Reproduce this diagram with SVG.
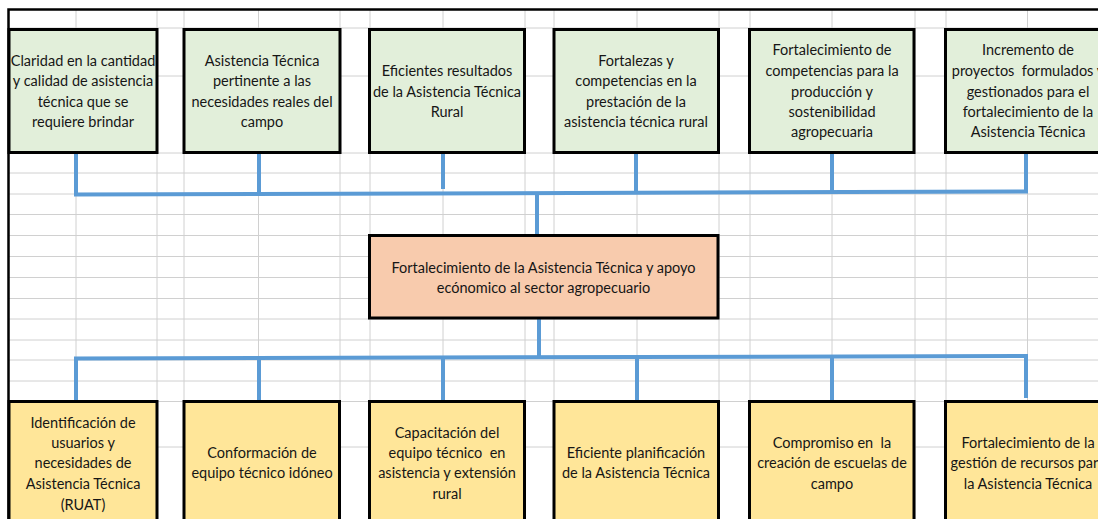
<svg xmlns="http://www.w3.org/2000/svg" width="1098" height="519" viewBox="0 0 1098 519">
<style>
.grid{stroke:#d0d0d0;stroke-width:1;fill:none}
.border{stroke:#000;stroke-width:2.5;fill:none}
.box{stroke:#000;stroke-width:3}
.top{fill:#E2EFDA}
.mid{fill:#F8CBAD}
.bot{fill:#FFE699}
.conn{stroke:#5B9BD5;stroke-width:4;fill:none}
text{font-family:Lato,"Liberation Sans",sans-serif;font-size:14.5px;fill:#161616;text-anchor:middle}
</style>
<rect width="1098" height="519" fill="#fff"/>
<g id="grid" class="grid">
<path d="M8,28H1098M8,76H1098M8,153H1098M8,173H1098M8,194H1098M8,214.5H1098M8,235.5H1098M8,256.5H1098M8,277.5H1098M8,298.5H1098M8,319H1098M8,340H1098M8,360H1098M8,381H1098M8,401.5H1098M8,447H1098"/>
<path d="M76,9V519M157,9V519M184,9V519M258.5,9V519M340,9V519M370,9V519M443,9V519M525,9V519M554,9V519M637,9V519M719,9V519M750,9V519M832,9V519M915,9V519M946,9V519M1027.5,9V519"/>
</g>
<path class="border" d="M8.5,519V9.5H1098"/>
<g id="connectors">
<path class="conn" d="M74,194.5L1028,191.5"/>
<path class="conn" d="M76,152V194M259,154V193.5M443,150V189M636,152V193M832,152V192.5M1026,152V193"/>
<path class="conn" d="M537,193V235M539,318V358"/>
<path class="conn" d="M74,358.5L1028,356"/>
<path class="conn" d="M76,358V400M259,358V401M443,358V400M637,357V401M832,357V401M1026,356V398"/>
</g>
<g id="t1"><rect class="box top" x="9" y="29.5" width="148" height="123"/>
<text x="83" y="65.5">Claridad en la cantidad</text><text x="83" y="86">y calidad de asistencia</text><text x="83" y="106.5">técnica que se</text><text x="83" y="127">requiere brindar</text></g>
<g id="t2"><rect class="box top" x="184" y="29.5" width="156" height="123"/>
<text x="262" y="65.5">Asistencia Técnica</text><text x="262" y="86">pertinente a las</text><text x="262" y="106.5">necesidades reales del</text><text x="262" y="127">campo</text></g>
<g id="t3"><rect class="box top" x="369.5" y="29.5" width="155" height="123"/>
<text x="447" y="76">Eficientes resultados</text><text x="447" y="96.5">de la Asistencia Técnica</text><text x="447" y="117">Rural</text></g>
<g id="t4"><rect class="box top" x="554" y="29.5" width="164.5" height="123"/>
<text x="636" y="65.5">Fortalezas y</text><text x="636" y="86">competencias en la</text><text x="636" y="106.5">prestación de la</text><text x="636" y="127">asistencia técnica rural</text></g>
<g id="t5"><rect class="box top" x="749.5" y="29.5" width="164.5" height="123"/>
<text x="832" y="55">Fortalecimiento de</text><text x="832" y="76">competencias para la</text><text x="832" y="96.5">producción y</text><text x="832" y="117">sostenibilidad</text><text x="832" y="137">agropecuaria</text></g>
<g id="t6"><rect class="box top" x="945.5" y="29.5" width="165" height="123"/>
<text x="1028" y="55">Incremento de</text><text x="1028" y="76" xml:space="preserve">proyectos  formulados y</text><text x="1028" y="96.5">gestionados para el</text><text x="1028" y="117">fortalecimiento de la</text><text x="1028" y="137">Asistencia Técnica</text></g>
<g id="center"><rect class="box mid" x="369.5" y="235.5" width="348.5" height="82.5"/>
<text x="543.5" y="273">Fortalecimiento de la Asistencia Técnica y apoyo</text><text x="543.5" y="293">ecónomico al sector agropecuario</text></g>
<g id="b1"><rect class="box bot" x="9" y="401.5" width="148" height="125"/>
<text x="83" y="428">Identificación de</text><text x="83" y="448">usuarios y</text><text x="83" y="468">necesidades de</text><text x="83" y="488.5">Asistencia Técnica</text><text x="83" y="509.5">(RUAT)</text></g>
<g id="b2"><rect class="box bot" x="184" y="401.5" width="155.5" height="125"/>
<text x="262" y="458">Conformación de</text><text x="262" y="478">equipo técnico idóneo</text></g>
<g id="b3"><rect class="box bot" x="369.5" y="401.5" width="155" height="125"/>
<text x="447" y="437.5">Capacitación del</text><text x="447" y="458" xml:space="preserve">equipo técnico  en</text><text x="447" y="478">asistencia y extensión</text><text x="447" y="499">rural</text></g>
<g id="b4"><rect class="box bot" x="554" y="401.5" width="164.5" height="125"/>
<text x="636" y="458">Eficiente planificación</text><text x="636" y="478">de la Asistencia Técnica</text></g>
<g id="b5"><rect class="box bot" x="749.5" y="401.5" width="164.5" height="125"/>
<text x="832" y="448" xml:space="preserve">Compromiso en  la</text><text x="832" y="468">creación de escuelas de</text><text x="832" y="488.5">campo</text></g>
<g id="b6"><rect class="box bot" x="945.5" y="401.5" width="165" height="125"/>
<text x="1028" y="448">Fortalecimiento de la</text><text x="1028" y="468">gestión de recursos para</text><text x="1028" y="488.5">la Asistencia Técnica</text></g>
</svg>
